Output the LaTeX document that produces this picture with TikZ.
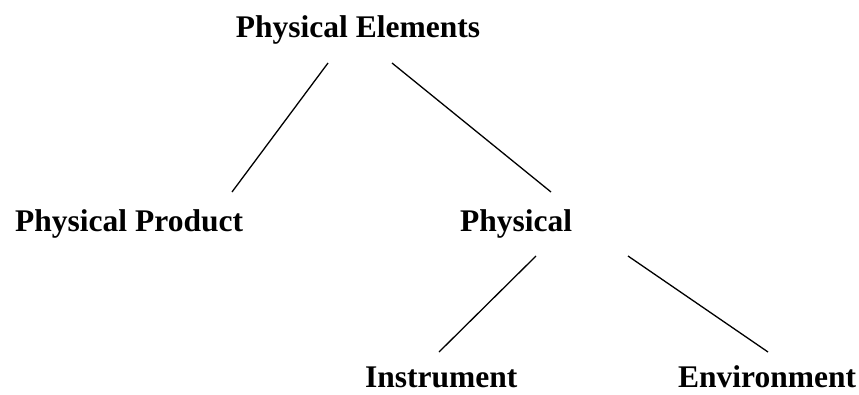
\documentclass[tikz,border=0pt]{standalone}
\usepackage{fontspec}
\setmainfont{Liberation Serif}
\begin{document}
\begin{tikzpicture}[x=1pt,y=-1pt,
  lbl/.style={inner sep=0pt,font=\fontsize{31.5}{31.5}\selectfont\bfseries},
  conn/.style={line width=1.3pt}]
\useasboundingbox (0,0) rectangle (859,394);
\node[lbl,anchor=base] (pe) at (358,37) {Physical Elements};
\node[lbl,anchor=base west] (pp) at (15,231) {Physical Product};
\node[lbl,anchor=base west] (ph) at (460,231) {Physical};
\node[lbl,anchor=base west] (ins) at (365,387) {Instrument};
\node[lbl,anchor=base west] (env) at (678,387) {Environment};
\coordinate (pe-l) at (328,63);
\coordinate (pe-r) at (392,63);
\coordinate (pp-t) at (232,192);
\coordinate (ph-t) at (551,192);
\coordinate (ph-l) at (536,256);
\coordinate (ph-r) at (628,256);
\coordinate (ins-t) at (439,352);
\coordinate (env-t) at (768,352);
\draw[conn] (pe-l) -- (pp-t);
\draw[conn] (pe-r) -- (ph-t);
\draw[conn] (ph-l) -- (ins-t);
\draw[conn] (ph-r) -- (env-t);
\end{tikzpicture}
\end{document}
